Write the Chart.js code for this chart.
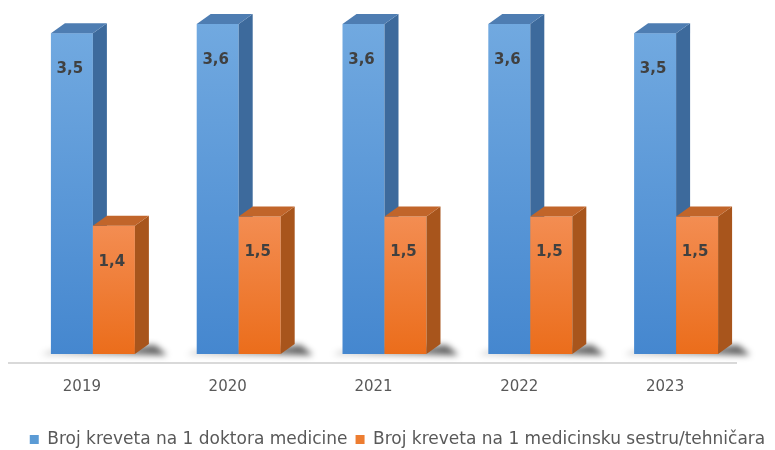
<!DOCTYPE html>
<html>
<head>
<meta charset="utf-8">
<script src="https://cdn.jsdelivr.net/npm/chart.js@4.4.1/dist/chart.umd.min.js"></script>
<style>
  html, body { margin: 0; padding: 0; background: #fff; }
  #wrap { width: 775px; height: 450px; }
</style>
</head>
<body>
<div id="wrap"><canvas id="chart"></canvas></div>
<script>
// values
const years = ['2019', '2020', '2021', '2022', '2023'];
const bedsPerDoctor = [3.5, 3.6, 3.6, 3.6, 3.5];
const bedsPerNurse = [1.4, 1.5, 1.5, 1.5, 1.5];
const seriesNames = ['Broj kreveta na 1 doktora medicine', 'Broj kreveta na 1 medicinsku sestru/tehničara'];

// face colours for the fake 3d columns
const faces = [
  { light: '#71a9e0', dark: '#4587cf', side: '#3d6a9c', top: '#4e7db2' },
  { light: '#f38d52', dark: '#eb6d1b', side: '#a8551c', top: '#c1652a' }
];
const DX = 14, DY = 10;

function drawColumn(ctx, b, f) {
  const x0 = b.x - b.width / 2, x1 = b.x + b.width / 2;
  const g = ctx.createLinearGradient(0, b.y, 0, b.base);
  g.addColorStop(0, f.light);
  g.addColorStop(1, f.dark);
  ctx.fillStyle = g;
  ctx.fillRect(x0, b.y, x1 - x0, b.base - b.y);
  // side
  ctx.fillStyle = f.side;
  ctx.beginPath();
  ctx.moveTo(x1, b.y);
  ctx.lineTo(x1 + DX, b.y - DY);
  ctx.lineTo(x1 + DX, b.base - DY);
  ctx.lineTo(x1, b.base);
  ctx.closePath();
  ctx.fill();
  // top
  ctx.fillStyle = f.top;
  ctx.beginPath();
  ctx.moveTo(x0, b.y);
  ctx.lineTo(x0 + DX, b.y - DY);
  ctx.lineTo(x1 + DX, b.y - DY);
  ctx.lineTo(x1, b.y);
  ctx.closePath();
  ctx.fill();
}

const bars3d = {
  id: 'bars3d',
  afterDatasetsDraw(chart) {
    const ctx = chart.ctx;
    const area = chart.chartArea;
    const metas = chart.data.datasets.map((d, i) => chart.getDatasetMeta(i));
    ctx.save();
    // floor line
    ctx.strokeStyle = '#d9d9d9';
    ctx.lineWidth = 2;
    ctx.beginPath();
    ctx.moveTo(area.left - 12, area.bottom + 9);
    ctx.lineTo(area.right - 12, area.bottom + 9);
    ctx.stroke();

    for (let j = 0; j < years.length; j++) {
      const first = metas[0].data[j].getProps(['x', 'y', 'base', 'width'], true);
      const last = metas[metas.length - 1].data[j].getProps(['x', 'y', 'base', 'width'], true);
      const left = first.x - first.width / 2;
      const right = last.x + last.width / 2;
      // soft shadow at the base, heavier on the right
      ctx.save();
      ctx.filter = 'blur(3px)';
      const sg = ctx.createLinearGradient(left - 12, 0, right + DX + 18, 0);
      sg.addColorStop(0, 'rgba(0,0,0,0.15)');
      sg.addColorStop(0.7, 'rgba(0,0,0,0.45)');
      sg.addColorStop(1, 'rgba(0,0,0,0.7)');
      ctx.fillStyle = sg;
      ctx.beginPath();
      ctx.moveTo(left - 2, first.base - 3);
      ctx.lineTo(right + DX + 6, last.base - 9);
      ctx.lineTo(right + DX + 18, last.base + 1);
      ctx.lineTo(left - 10, first.base + 1);
      ctx.closePath();
      ctx.fill();
      ctx.restore();

      metas.forEach((meta, i) => {
        const b = meta.data[j].getProps(['x', 'y', 'base', 'width'], true);
        drawColumn(ctx, b, faces[i]);
      });
      metas.forEach((meta, i) => {
        const b = meta.data[j].getProps(['x', 'y', 'base', 'width'], true);
        const v = chart.data.datasets[i].data[j];
        ctx.fillStyle = '#404040';
        ctx.font = 'bold 15px "DejaVu Sans"';
        ctx.textAlign = 'center';
        ctx.textBaseline = 'middle';
        ctx.fillText(v.toFixed(1).replace('.', ','), b.x - 2, b.y + 36);
      });
    }
    ctx.restore();
  }
};

new Chart(document.getElementById('chart'), {
  type: 'bar',
  data: {
    labels: years,
    datasets: [
      { label: seriesNames[0], data: bedsPerDoctor, backgroundColor: 'rgba(0,0,0,0)', legendColor: '#5b9bd5' },
      { label: seriesNames[1], data: bedsPerNurse, backgroundColor: 'rgba(0,0,0,0)', legendColor: '#ed7d31' }
    ]
  },
  options: {
    responsive: true,
    maintainAspectRatio: false,
    animation: false,
    categoryPercentage: 0.576,
    barPercentage: 1,
    layout: { padding: { left: 20, right: 0, top: 24, bottom: -8 } },
    scales: {
      x: {
        grid: { display: false, drawTicks: false },
        border: { display: false },
        ticks: { color: '#595959', font: { family: 'DejaVu Sans', size: 15 }, padding: 24, labelOffset: -11 },
        afterFit(scale) { scale.height = 69; }
      },
      y: { display: false, min: 0, max: 3.6 },
      // empty right axis only reserves room, so the legend keeps the full width
      yRight: {
        position: 'right',
        grid: { display: false, drawTicks: false },
        border: { display: false },
        ticks: { display: false },
        afterFit(scale) { scale.width = 26; }
      }
    },
    plugins: {
      tooltip: { enabled: false },
      legend: {
        position: 'bottom',
        labels: {
          color: '#595959',
          font: { family: 'DejaVu Sans', size: 17 },
          boxWidth: 9,
          boxHeight: 9,
          padding: 8,
          generateLabels(chart) {
            return chart.data.datasets.map((d, i) => ({
              text: d.label,
              fillStyle: d.legendColor,
              strokeStyle: d.legendColor,
              lineWidth: 0,
              datasetIndex: i,
              fontColor: '#595959'
            }));
          }
        }
      }
    }
  },
  plugins: [bars3d]
});
</script>
</body>
</html>
